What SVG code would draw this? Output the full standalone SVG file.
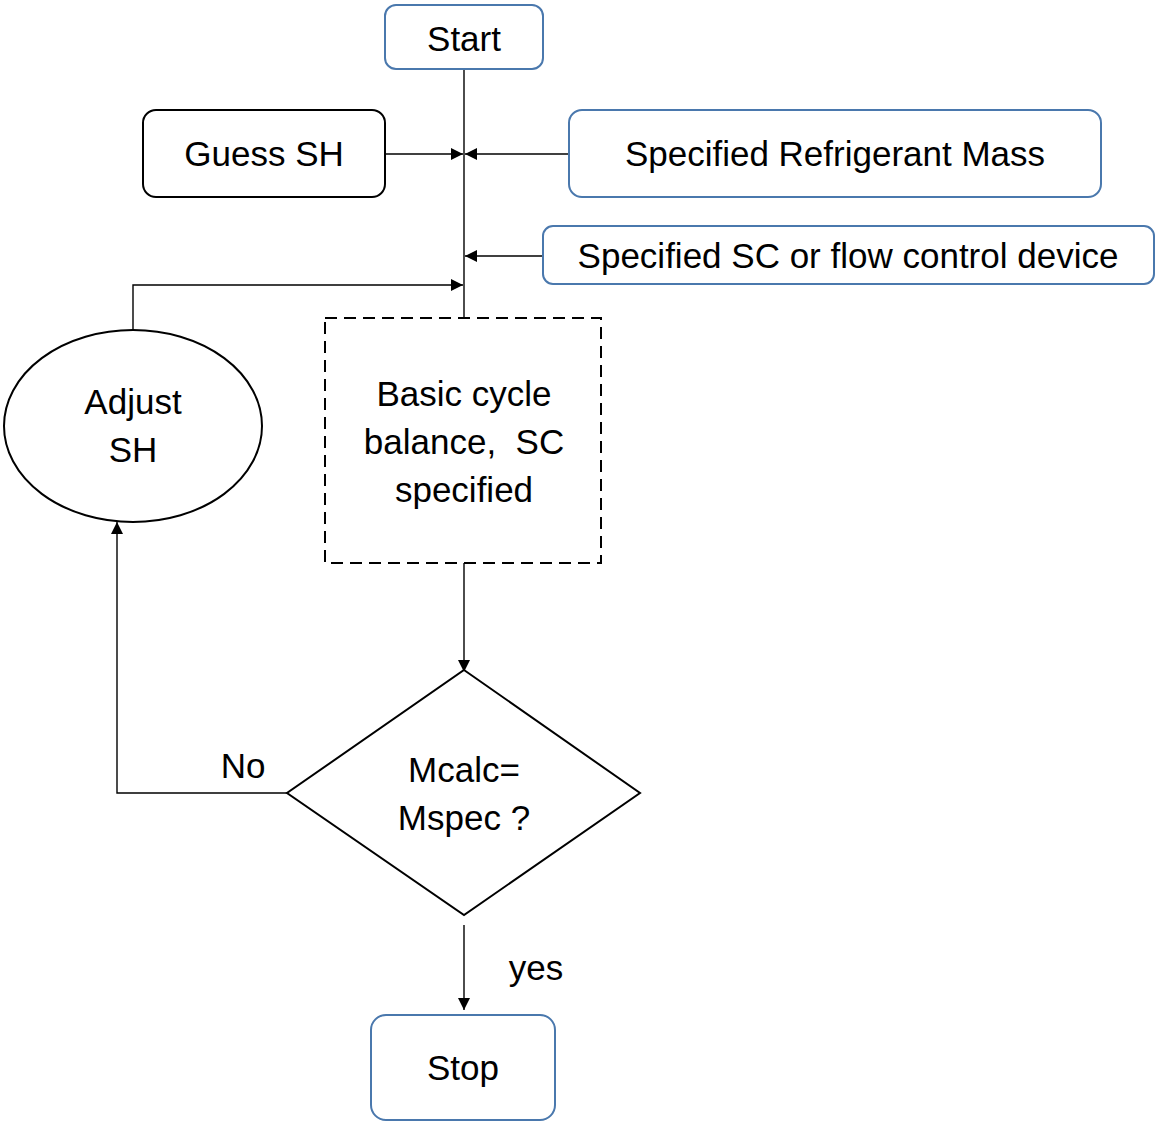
<svg xmlns="http://www.w3.org/2000/svg" width="1160" height="1131" viewBox="0 0 1160 1131">
  <style>
    .blue { fill: #ffffff; stroke: #4a78ad; stroke-width: 2; }
    .black { fill: #ffffff; stroke: #000000; stroke-width: 2; }
    .dash { fill: #ffffff; stroke: #000000; stroke-width: 2; stroke-dasharray: 12 7; }
    .wire { fill: none; stroke: #000000; stroke-width: 1.4; }
    text { font-family: "Liberation Sans", Arial, sans-serif; font-size: 35px; fill: #000000; text-anchor: middle; white-space: pre; }
  </style>
  <defs>
    <marker id="arrow" viewBox="0 0 12 12" refX="12" refY="6" markerWidth="12" markerHeight="12" markerUnits="userSpaceOnUse" orient="auto">
      <path d="M0,0 L12,6 L0,12 Z" fill="#000000"/>
    </marker>
  </defs>

  <g id="connectors">
    <line class="wire" x1="464" y1="69" x2="464" y2="318"/>
    <line class="wire" x1="385" y1="154" x2="463" y2="154" marker-end="url(#arrow)"/>
    <line class="wire" x1="569" y1="154" x2="465" y2="154" marker-end="url(#arrow)"/>
    <line class="wire" x1="543" y1="256" x2="465" y2="256" marker-end="url(#arrow)"/>
    <polyline class="wire" points="133,330 133,285 463,285" marker-end="url(#arrow)"/>
    <line class="wire" x1="464" y1="563" x2="464" y2="672" marker-end="url(#arrow)"/>
    <polyline class="wire" points="287,793 117,793 117,522" marker-end="url(#arrow)"/>
    <line class="wire" x1="464" y1="925" x2="464" y2="1010" marker-end="url(#arrow)"/>
    <text x="243" y="778">No</text>
    <text x="536" y="980">yes</text>
  </g>

  <g id="start">
    <rect class="blue" x="385" y="5" width="158" height="64" rx="11"/>
    <text x="464" y="51">Start</text>
  </g>

  <g id="guess-sh">
    <rect class="black" x="143" y="110" width="242" height="87" rx="13"/>
    <text x="264" y="166">Guess SH</text>
  </g>

  <g id="specified-mass">
    <rect class="blue" x="569" y="110" width="532" height="87" rx="13"/>
    <text x="835" y="166">Specified Refrigerant Mass</text>
  </g>

  <g id="specified-sc">
    <rect class="blue" x="543" y="226" width="611" height="58" rx="10"/>
    <text x="848" y="268">Specified SC or flow control device</text>
  </g>

  <g id="adjust-sh">
    <ellipse class="black" cx="133" cy="426" rx="129" ry="96"/>
    <text x="133" y="414">Adjust</text>
    <text x="133" y="462">SH</text>
  </g>

  <g id="cycle-balance">
    <rect class="dash" x="325" y="318" width="276" height="245"/>
    <text x="464" y="406">Basic cycle</text>
    <text x="464" y="454">balance,  SC</text>
    <text x="464" y="502">specified</text>
  </g>

  <g id="mass-check">
    <polygon class="black" points="464,670 640,793 464,915 287,793"/>
    <text x="464" y="782">Mcalc=</text>
    <text x="464" y="830">Mspec ?</text>
  </g>

  <g id="stop">
    <rect class="blue" x="371" y="1015" width="184" height="105" rx="15"/>
    <text x="463" y="1080">Stop</text>
  </g>
</svg>
